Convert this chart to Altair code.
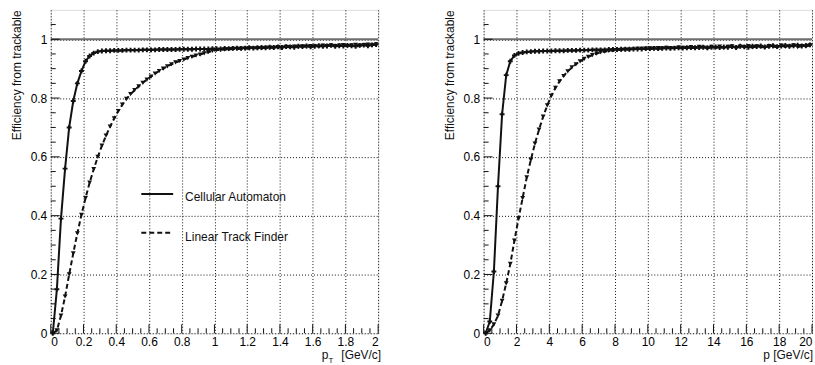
import altair as alt
import pandas as pd

# ---------------- data ----------------
PT_BIN = 0.025   # bin width of the pT histogram (0..2 GeV/c, 80 bins)
P_BIN = 0.25     # bin width of the p histogram (0..20 GeV/c, 80 bins)

ca_pt = [0.0, 0.15, 0.39, 0.56, 0.70, 0.79, 0.85, 0.892, 0.925, 0.943,
         0.953, 0.958, 0.960, 0.961, 0.961, 0.962, 0.962, 0.962, 0.963, 0.963,
         0.963, 0.963, 0.964, 0.964, 0.964, 0.964, 0.965, 0.965, 0.965, 0.965,
         0.965, 0.966, 0.966, 0.966, 0.966, 0.967, 0.967, 0.967, 0.967, 0.968,
         0.968, 0.967, 0.969, 0.968, 0.969, 0.970, 0.969, 0.970, 0.971, 0.970,
         0.971, 0.972, 0.971, 0.973, 0.972, 0.974, 0.972, 0.975, 0.974, 0.973,
         0.976, 0.975, 0.977, 0.974, 0.976, 0.978, 0.976, 0.977, 0.979, 0.976,
         0.978, 0.977, 0.979, 0.978, 0.976, 0.979, 0.980, 0.978, 0.981, 0.982]

ltf_pt = [0.0, 0.01, 0.06, 0.125, 0.20, 0.272, 0.34, 0.403, 0.46, 0.512,
          0.558, 0.60, 0.638, 0.672, 0.703, 0.731, 0.756, 0.778, 0.797, 0.813,
          0.827, 0.840, 0.852, 0.863, 0.873, 0.883, 0.892, 0.900, 0.908, 0.915,
          0.921, 0.926, 0.931, 0.936, 0.940, 0.944, 0.948, 0.952, 0.956, 0.960,
          0.963, 0.964, 0.965, 0.966, 0.967, 0.967, 0.968, 0.968, 0.969, 0.969,
          0.970, 0.969, 0.971, 0.972, 0.971, 0.973, 0.972, 0.974, 0.973, 0.975,
          0.974, 0.976, 0.975, 0.977, 0.976, 0.975, 0.978, 0.977, 0.979, 0.977,
          0.978, 0.980, 0.977, 0.979, 0.981, 0.978, 0.980, 0.982, 0.979, 0.983]

ca_p = [0.0, 0.04, 0.21, 0.50, 0.745, 0.878, 0.925, 0.945, 0.952, 0.955,
        0.957, 0.958, 0.959, 0.959, 0.960, 0.960, 0.960, 0.961, 0.961, 0.961,
        0.962, 0.962, 0.962, 0.963, 0.963, 0.963, 0.964, 0.964, 0.964, 0.964,
        0.965, 0.965, 0.965, 0.966, 0.966, 0.966, 0.967, 0.967, 0.967, 0.968,
        0.968, 0.969, 0.968, 0.969, 0.970, 0.969, 0.970, 0.971, 0.970, 0.971,
        0.972, 0.971, 0.972, 0.973, 0.971, 0.973, 0.974, 0.972, 0.974, 0.973,
        0.975, 0.972, 0.976, 0.974, 0.973, 0.976, 0.975, 0.977, 0.974, 0.976,
        0.978, 0.975, 0.977, 0.979, 0.976, 0.978, 0.980, 0.977, 0.979, 0.981]

ltf_p = [0.0, 0.01, 0.03, 0.06, 0.11, 0.17, 0.236, 0.315, 0.39, 0.46,
         0.53, 0.59, 0.645, 0.693, 0.737, 0.775, 0.808, 0.835, 0.857, 0.875,
         0.891, 0.904, 0.915, 0.925, 0.933, 0.940, 0.946, 0.951, 0.955, 0.958,
         0.960, 0.962, 0.963, 0.964, 0.965, 0.965, 0.966, 0.967, 0.967, 0.968,
         0.969, 0.968, 0.970, 0.969, 0.971, 0.970, 0.969, 0.972, 0.971, 0.970,
         0.973, 0.970, 0.974, 0.972, 0.969, 0.974, 0.971, 0.975, 0.970, 0.974,
         0.976, 0.971, 0.975, 0.973, 0.977, 0.972, 0.976, 0.974, 0.971, 0.977,
         0.975, 0.973, 0.978, 0.974, 0.976, 0.979, 0.973, 0.977, 0.975, 0.979]

series_names = ["Cellular Automaton", "Linear Track Finder"]
y_title = "Efficiency from trackable"

y_major = [0, 0.2, 0.4, 0.6, 0.8, 1.0]
y_minor = [0.05, 0.1, 0.15, 0.25, 0.3, 0.35, 0.45, 0.5, 0.55, 0.65, 0.7, 0.75,
           0.85, 0.9, 0.95, 1.05]
pt_major = [0, 0.2, 0.4, 0.6, 0.8, 1.0, 1.2, 1.4, 1.6, 1.8, 2.0]
pt_minor = [0.05, 0.1, 0.15, 0.25, 0.3, 0.35, 0.45, 0.5, 0.55, 0.65, 0.7, 0.75,
            0.85, 0.9, 0.95, 1.05, 1.1, 1.15, 1.25, 1.3, 1.35, 1.45, 1.5, 1.55,
            1.65, 1.7, 1.75, 1.85, 1.9, 1.95]
p_major = [0, 2, 4, 6, 8, 10, 12, 14, 16, 18, 20]
p_minor = [0.5, 1, 1.5, 2.5, 3, 3.5, 4.5, 5, 5.5, 6.5, 7, 7.5, 8.5, 9, 9.5,
           10.5, 11, 11.5, 12.5, 13, 13.5, 14.5, 15, 15.5, 16.5, 17, 17.5,
           18.5, 19, 19.5]

FONT = "Liberation Sans"
INK = "#111111"
W_L, W_R, H = 329, 330, 325


def panel(width, bin_w, ca, ltf, xmax, major, minor, legend):
    centers = [round(bin_w * (k + 0.5), 5) for k in range(len(ca))]
    df = pd.DataFrame({
        "x": centers * 2,
        "eff": ca + ltf,
        "series": [series_names[0]] * len(ca) + [series_names[1]] * len(ltf),
    })
    xs = alt.Scale(domain=[0, xmax], nice=False, zero=True)
    ys = alt.Scale(domain=[0, 1.1], nice=False)
    xaxis = alt.Axis(values=major, format="~g", grid=True, gridDash=[1, 2],
                     gridColor=INK, gridOpacity=1, ticks=False, domain=False,
                     labelFont=FONT, labelFontSize=12, labelColor="#000000",
                     labelPadding=3, labelOverlap=False, labelBound=False,
                     title=None)
    yaxis = alt.Axis(values=y_major, format="~g", grid=True, gridDash=[1, 2],
                     gridColor=INK, gridOpacity=1, ticks=False, domain=False,
                     labelFont=FONT, labelFontSize=12, labelColor="#000000",
                     labelPadding=4, labelOverlap=False, title=y_title,
                     titleAnchor="end",
                     titleFont=FONT, titleFontSize=12, titleFontWeight="normal",
                     titleColor=INK, titlePadding=7)

    def X(f):
        return alt.X(f, scale=xs, axis=xaxis)

    def Y(f):
        return alt.Y(f, scale=ys, axis=yaxis)

    ca_df = df[df.series == series_names[0]]
    ltf_df = df[df.series == series_names[1]]
    enc = dict(x=X("x:Q"), y=Y("eff:Q"))
    one = alt.Chart(pd.DataFrame({"v": [1.0]})).mark_rule(
        color="#6e6e6e", strokeWidth=2.2).encode(y=Y("v:Q"))
    ca_line = alt.Chart(ca_df).mark_line(color=INK, strokeWidth=2).encode(**enc)
    ca_pts = alt.Chart(ca_df).mark_point(shape="cross", filled=True, size=24,
                                         color=INK, opacity=1).encode(**enc)
    ltf_line = alt.Chart(ltf_df).mark_line(color=INK, strokeWidth=2,
                                           strokeDash=[5, 3]).encode(**enc)
    ltf_pts = alt.Chart(ltf_df).mark_point(shape="triangle-down", filled=True,
                                           size=24, color=INK,
                                           opacity=1).encode(**enc)
    xmaj = alt.Chart(pd.DataFrame({"t": major})).mark_rule(color=INK).encode(
        x=X("t:Q"), y=alt.value(H), y2=alt.value(H - 9))
    xmin = alt.Chart(pd.DataFrame({"t": minor})).mark_rule(color=INK).encode(
        x=X("t:Q"), y=alt.value(H), y2=alt.value(H - 5))
    ymaj = alt.Chart(pd.DataFrame({"t": y_major})).mark_rule(color=INK).encode(
        y=Y("t:Q"), x=alt.value(0), x2=alt.value(9))
    ymin = alt.Chart(pd.DataFrame({"t": y_minor})).mark_rule(color=INK).encode(
        y=Y("t:Q"), x=alt.value(0), x2=alt.value(5))
    layers = [ltf_line, one, xmaj, xmin, ymaj, ymin, ltf_pts,
              ca_line, ca_pts]
    if legend:
        lab = pd.DataFrame({"name": series_names})
        l1 = alt.Chart(lab.iloc[[0]]).mark_rule(color=INK, strokeWidth=2).encode(
            x=alt.value(91), x2=alt.value(123), y=alt.value(185))
        l2 = alt.Chart(lab.iloc[[1]]).mark_rule(
            color=INK, strokeWidth=2, strokeDash=[5, 3]).encode(
            x=alt.value(91), x2=alt.value(123), y=alt.value(224))
        t1 = alt.Chart(lab.iloc[[0]]).mark_text(
            align="left", baseline="middle", font=FONT, fontSize=12,
            color=INK).encode(x=alt.value(135), y=alt.value(188), text="name:N")
        t2 = alt.Chart(lab.iloc[[1]]).mark_text(
            align="left", baseline="middle", font=FONT, fontSize=12,
            color=INK).encode(x=alt.value(135), y=alt.value(228), text="name:N")
        layers += [l1, l2, t1, t2]
        # x title  p_T [GeV/c]
        tt = pd.DataFrame({"s": ["p", "T", "[GeV/c]"]})
        p1 = alt.Chart(tt.iloc[[0]]).mark_text(
            align="right", baseline="alphabetic", font=FONT, fontSize=12,
            color=INK).encode(x=alt.value(width - 50), y=alt.value(H + 26),
                              text="s:N")
        p2 = alt.Chart(tt.iloc[[1]]).mark_text(
            align="left", baseline="alphabetic", font=FONT, fontSize=8,
            color=INK).encode(x=alt.value(width - 50), y=alt.value(H + 30),
                              text="s:N")
        p3 = alt.Chart(tt.iloc[[2]]).mark_text(
            align="right", baseline="alphabetic", font=FONT, fontSize=12,
            color=INK).encode(x=alt.value(width + 3), y=alt.value(H + 26),
                              text="s:N")
        layers += [p1, p2, p3]
    else:
        tt = pd.DataFrame({"s": ["p [GeV/c]"]})
        p3 = alt.Chart(tt).mark_text(
            align="right", baseline="alphabetic", font=FONT, fontSize=12,
            color=INK).encode(x=alt.value(width + 1), y=alt.value(H + 26),
                              text="s:N")
        layers += [p3]
    return alt.layer(*layers).properties(width=width, height=H)


left = panel(W_L, PT_BIN, ca_pt, ltf_pt, 2.0, pt_major, pt_minor, True)
right = panel(W_R, P_BIN, ca_p, ltf_p, 20.0, p_major, p_minor, False)

chart = alt.hconcat(left, right, spacing=60).properties(
    padding={"left": 9, "top": 8, "right": 0, "bottom": 0}
).configure_view(stroke="#000000", strokeWidth=1.6).configure_axis(
    labelOverlap=False).configure(background="white")

chart.save("out.html", embed_options={"renderer": "svg", "actions": False})
